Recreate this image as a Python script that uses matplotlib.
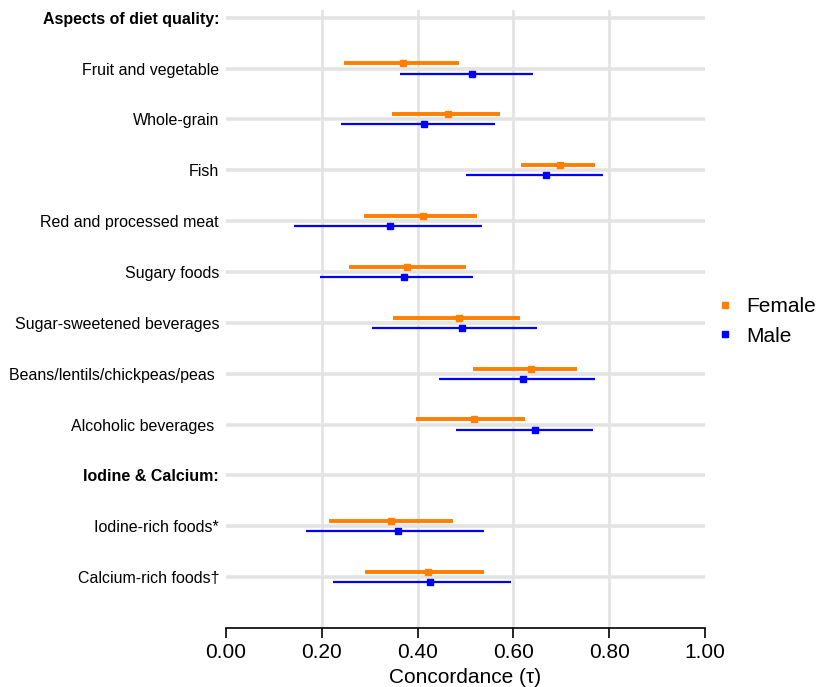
import matplotlib.pyplot as plt
import numpy as np

plt.rcParams['font.family'] = ['Liberation Sans', 'DejaVu Sans']

labels = ["Aspects of diet quality:", "Fruit and vegetable", "Whole-grain", "Fish",
          "Red and processed meat", "Sugary foods", "Sugar-sweetened beverages",
          "Beans/lentils/chickpeas/peas ", "Alcoholic beverages ", "Iodine & Calcium:",
          "Iodine-rich foods*", "Calcium-rich foods\u2020"]
headers = ["Aspects of diet quality:", "Iodine & Calcium:"]

# rows with data (index into labels)
rows = [1, 2, 3, 4, 5, 6, 7, 8, 10, 11]

female_est = [0.369, 0.463, 0.698, 0.411, 0.377, 0.486, 0.636, 0.518, 0.344, 0.421]
female_lo = [0.246, 0.346, 0.615, 0.287, 0.256, 0.348, 0.516, 0.396, 0.216, 0.290]
female_hi = [0.486, 0.573, 0.770, 0.523, 0.500, 0.613, 0.732, 0.625, 0.474, 0.539]

male_est = [0.513, 0.414, 0.667, 0.342, 0.372, 0.492, 0.620, 0.645, 0.358, 0.426]
male_lo = [0.363, 0.240, 0.502, 0.141, 0.197, 0.304, 0.444, 0.480, 0.167, 0.224]
male_hi = [0.641, 0.562, 0.786, 0.534, 0.516, 0.650, 0.770, 0.766, 0.539, 0.594]

xticks = [0.0, 0.2, 0.4, 0.6, 0.8, 1.0]

orange = "#FF7F00"
blue = "#0000FF"

fig = plt.figure(figsize=(8.16, 6.87), dpi=100)
ax = fig.add_axes([0.277, 0.0859, 0.587, 0.8995])

y = np.array(rows, dtype=float)
fe = np.array(female_est)
me = np.array(male_est)

# grid
for i in range(len(labels)):
    ax.axhline(i, color="#e3e3e3", lw=2.6, zorder=0)
for xv in xticks[1:-1]:
    ax.axvline(xv, color="#e3e3e3", lw=2.0, zorder=0)

ax.hlines(y - 0.1, female_lo, female_hi, color=orange, lw=2.8, zorder=2)
ax.plot(fe, y - 0.1, 's', color=orange, ms=5, zorder=3, label="Female")
ax.hlines(y + 0.1, male_lo, male_hi, color=blue, lw=1.6, zorder=2)
ax.plot(me, y + 0.1, 's', color=blue, ms=5, zorder=3, label="Male")

ax.set_xlim(0, 1)
ax.set_ylim(12, -0.15)
ax.set_xticks(xticks)
ax.set_xticklabels(["%.2f" % v for v in xticks], fontsize=15)
ax.set_yticks(range(len(labels)))
ax.set_yticklabels(labels, fontsize=11.5)
for t in ax.get_yticklabels():
    if t.get_text() in headers:
        t.set_fontweight("bold")
ax.tick_params(axis='y', length=0, pad=5)
ax.tick_params(axis='x', length=7, width=1.2, pad=4)
ax.set_xlabel("Concordance (\u03c4)", fontsize=15, labelpad=4)

for s in ["top", "right", "left"]:
    ax.spines[s].set_visible(False)
ax.spines["bottom"].set_linewidth(1.2)

leg = ax.legend(loc="center left", bbox_to_anchor=(1.0, 0.496), frameon=False,
                fontsize=15, handlelength=0.5, handletextpad=0.8, markerscale=0.8,
                labelspacing=0.5, borderaxespad=0.3)

fig.savefig("out.png", dpi=100)
